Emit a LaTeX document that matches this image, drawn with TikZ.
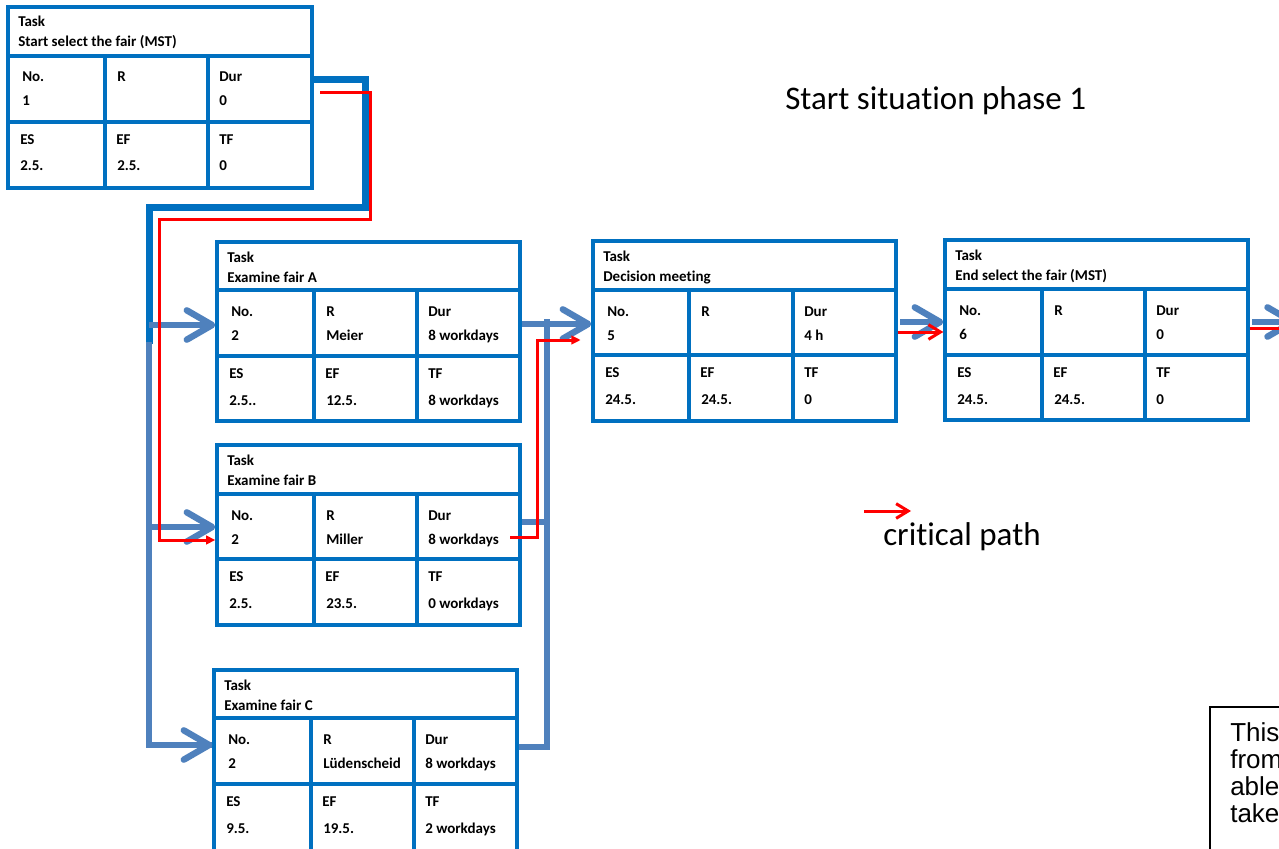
\documentclass[tikz,border=0pt]{standalone}
\usepackage{fontspec}
\setmainfont{Carlito}[Ligatures=NoCommon]
\newfontfamily\notefont{Liberation Sans}
\usetikzlibrary{arrows.meta,fit}

\definecolor{boxblue}{RGB}{0,112,192}
\definecolor{linkblue}{RGB}{79,129,189}
\definecolor{critred}{RGB}{255,0,0}

\tikzset{
  frame/.style={draw=boxblue, line width=2.5pt, inner sep=0pt},
  gridline/.style={draw=boxblue, line width=2.5pt},
  celltext/.style={anchor=base west, inner sep=0pt,
    font=\fontsize{11.25}{13}\selectfont\bfseries},
  mainlink/.style={draw=boxblue, line width=5.25pt},
  link/.style={draw=linkblue, line width=4.8pt},
  linkarrow/.style={link, -{Straight Barb[length=19pt, width=22pt, round]}},
  crit/.style={draw=critred, line width=2.25pt},
  critarrow/.style={crit, -{Triangle[length=7pt, width=6.5pt]}},
  critbarb/.style={crit, -{Straight Barb[length=9pt, width=11pt]}},
  bigtext/.style={anchor=base west, inner sep=0pt,
    font=\fontsize{24.75}{30}\selectfont},
  notetext/.style={anchor=base west, inner sep=0pt,
    font=\notefont\fontsize{19.5}{23}\selectfont},
}

% grid of one task: name, x0, y0, x1, y1, header line, middle line, column 1, column 2
\newcommand\taskbox[9]{%
  \node[frame, fit={(#2,#3) (#4,#5)}] (#1) {};
  \draw[gridline] (#2,#6) -- (#4,#6);
  \draw[gridline] (#2,#7) -- (#4,#7);
  \draw[gridline] (#8,#6) -- (#8,#5);
  \draw[gridline] (#9,#6) -- (#9,#5);
  \coordinate (#1-h) at (#2,#3);
  \coordinate (#1-a) at (#2,#6);
  \coordinate (#1-b) at (#8,#6);
  \coordinate (#1-c) at (#9,#6);
  \coordinate (#1-d) at (#2,#7);
  \coordinate (#1-e) at (#8,#7);
  \coordinate (#1-f) at (#9,#7);
}

% cell texts: name, title, No., R, Dur, ES, EF, TF
\newcommand\taskdata[8]{%
  \node[celltext] (#1-t1) at ([shift={(10,20)}]#1-h) {Task};
  \node[celltext] (#1-t2) at ([shift={(10,40)}]#1-h) {#2};
  \node[celltext] (#1-l1) at ([shift={(14,26)}]#1-a) {No.};
  \node[celltext] (#1-v1) at ([shift={(14,50)}]#1-a) {#3};
  \node[celltext] (#1-l2) at ([shift={(12,26)}]#1-b) {R};
  \node[celltext] (#1-v2) at ([shift={(12,50)}]#1-b) {#4};
  \node[celltext] (#1-l3) at ([shift={(11,26)}]#1-c) {Dur};
  \node[celltext] (#1-v3) at ([shift={(11,50)}]#1-c) {#5};
  \node[celltext] (#1-l4) at ([shift={(12,22)}]#1-d) {ES};
  \node[celltext] (#1-v4) at ([shift={(12,49)}]#1-d) {#6};
  \node[celltext] (#1-l5) at ([shift={(11,22)}]#1-e) {EF};
  \node[celltext] (#1-v5) at ([shift={(12,49)}]#1-e) {#7};
  \node[celltext] (#1-l6) at ([shift={(11,22)}]#1-f) {TF};
  \node[celltext] (#1-v6) at ([shift={(11,49)}]#1-f) {#8};
}

\begin{document}
\begin{tikzpicture}[x=0.75pt, y=-0.75pt]
\path[use as bounding box, clip] (0,0) rectangle (1279,849);
\fill[white] (0,0) rectangle (1279,849);

% tasks
\taskbox{S}{8}{7}{312}{188}{56}{122}{105}{208}
\taskdata{S}{Start select the fair (MST)}{1}{}{0}{2.5.}{2.5.}{0}

\taskbox{A}{217}{242}{520}{421}{290}{356}{314}{417}
\taskdata{A}{Examine fair A}{2}{Meier}{8 workdays}{2.5..}{12.5.}{8 workdays}

\taskbox{B}{217}{445}{520}{625}{494}{559}{314}{417}
\taskdata{B}{Examine fair B}{2}{Miller}{8 workdays}{2.5.}{23.5.}{0 workdays}

\taskbox{C}{214}{670}{517}{854}{718}{784}{311}{414}
\taskdata{C}{Examine fair C}{2}{Lüdenscheid}{8 workdays}{9.5.}{19.5.}{2 workdays}

\taskbox{D}{593}{241}{896}{421}{290}{355}{689}{793}
\taskdata{D}{Decision meeting}{5}{}{4 h}{24.5.}{24.5.}{0}

\taskbox{E}{945}{240}{1248}{420}{289}{355}{1042}{1145}
\taskdata{E}{End select the fair (MST)}{6}{}{0}{24.5.}{24.5.}{0}

% heights of the links
\coordinate (y80) at (0,80);
\coordinate (y325) at (0,325);
\coordinate (y527) at (0,527);
\coordinate (y745) at (0,745);
\coordinate (y324) at (0,324);
\coordinate (y522) at (0,522);
\coordinate (y747) at (0,747);
\coordinate (y322) at (0,322);
\coordinate (y540) at (0,540);
\coordinate (y340) at (0,340);
\coordinate (y332) at (0,332);
\coordinate (y328) at (0,328);
\coordinate (next) at (1296,0);

% links out of the start task
\draw[mainlink] (S.east |- y80) -- (365,80) -- (365,207) -- (149,207) -- (149,344);
\draw[link] (149,342) -- (149,745) -- (C.west |- y745);
\draw[linkarrow] (149,745) -- (C.west |- y745);
\draw[linkarrow] (149,325) -- (A.west |- y325);
\draw[linkarrow] (149,527) -- (B.west |- y527);

% links into the decision meeting
\draw[link] (C.east |- y747) -- (547,747) -- (547,319);
\draw[link] (B.east |- y522) -- (547,522);
\draw[linkarrow] (A.east |- y324) -- (D.west |- y324);

% links to the end and beyond
\draw[linkarrow] ([xshift=2pt]D.east |- y322) -- (E.west |- y322);
\draw[linkarrow] ([xshift=2pt]E.east |- y322) -- (next |- y322);

% critical path
\coordinate (cp0) at (320,93);
\coordinate (cp1) at (510,537);
\draw[critarrow, line join=miter] (cp0) -- (370,93) -- (370,219) -- (159,219) -- (159,540) -- (B.west |- y540);
\draw[critarrow, shorten >=8pt] (cp1) -- (537,537) -- (537,340) -- (D.west |- y340);
\draw[critbarb] (D.east |- y332) -- (E.west |- y332);
\draw[critbarb] (E.east |- y328) -- (next |- y328);

% titles and legend
\node[bigtext] (phase) at (785,109) {Start situation phase 1};
\coordinate (lega) at (864,511);
\coordinate (legb) at (911,511);
\draw[critbarb] (lega) -- (legb);
\node[bigtext] (legend) at (883,545) {critical path};

% note at the lower right
\draw[black, line width=0.9pt] (1210,707) rectangle (1300,870);
\node[notetext] (note1) at (1230,741) {This};
\node[notetext] (note2) at (1230,768) {from};
\node[notetext] (note3) at (1230,795) {able};
\node[notetext] (note4) at (1230,822) {take};
\end{tikzpicture}
\end{document}
